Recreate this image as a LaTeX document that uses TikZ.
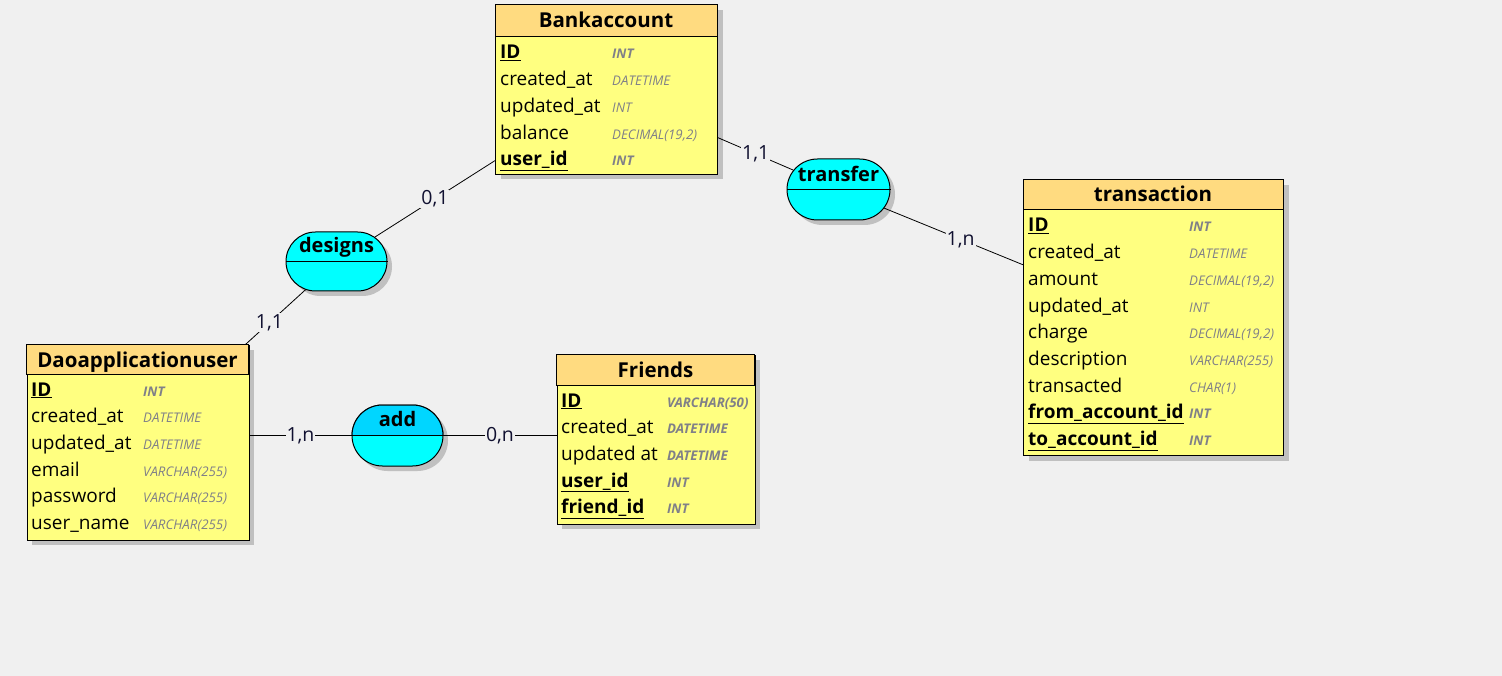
\documentclass[tikz,border=0pt]{standalone}
\usepackage{fontspec}
\setmainfont{Open Sans}
\usetikzlibrary{shapes.misc,shadows,calc}
\definecolor{bgcol}{RGB}{240,240,240}
\definecolor{headcol}{RGB}{255,219,128}
\definecolor{bodycol}{RGB}{255,255,128}
\definecolor{relcol}{RGB}{0,255,255}
\definecolor{addcol}{RGB}{0,214,255}
\definecolor{shadowcol}{RGB}{192,192,192}
\definecolor{typecol}{RGB}{128,128,136}
\definecolor{cardcol}{RGB}{16,16,48}
\newcommand{\keyf}[1]{\textbf{\underline{#1}}}
\tikzset{
  tablebox/.style={draw, fill=bodycol, line width=1pt, inner sep=0pt, anchor=north west,
    drop shadow={shadow xshift=5pt, shadow yshift=-5pt, opacity=1, fill=shadowcol}},
  relbase/.style={rounded rectangle, draw, fill=relcol, line width=1pt, inner sep=0pt},
  relation/.style={relbase,
    drop shadow={shadow xshift=5pt, shadow yshift=-5pt, opacity=1, fill=shadowcol}},
  tabletitle/.style={anchor=base, inner sep=0pt, font=\fontsize{20.5}{24}\selectfont\bfseries},
  reltext/.style={anchor=base, inner sep=0pt, font=\fontsize{20}{24}\selectfont\bfseries},
  field/.style={anchor=base west, inner sep=0pt, font=\fontsize{19}{23}\selectfont},
  ftype/.style={anchor=base west, inner sep=0pt, text=typecol, font=\fontsize{13.3}{15}\selectfont\itshape},
  link/.style={line width=0.8pt},
  card/.style={fill=bgcol, inner sep=1pt, text=cardcol, font=\fontsize{19.5}{22}\selectfont}
}
\begin{document}
\begin{tikzpicture}[x=1pt, y=-1pt]
    \fill[bgcol] (0,0) rectangle (1502,676);

    % Bankaccount
    \node[tablebox, minimum width=222pt, minimum height=169pt] (bank) at (495,5) {};
    \draw[fill=headcol, line width=1pt] (495,5) rectangle (717,37);
    \node[tabletitle] (bank-title) at (606,28) {Bankaccount};
    \foreach \f/\t [count=\i] in {\keyf{ID}/\textbf{INT}, created\_at/DATETIME, updated\_at/INT,
        {balance/DECIMAL(19,2)}, \keyf{user\_id}/\textbf{INT}} {
        \node[field] (bank-\i) at (500,{59+26.7*(\i-1)}) {\f};
        \node[ftype] (bank-t\i) at (612,{59+26.7*(\i-1)}) {\t};
    }

    % transaction
    \node[tablebox, minimum width=260pt, minimum height=275pt] (trans) at (1023,180) {};
    \draw[fill=headcol, line width=1pt] (1023,180) rectangle (1283,210);
    \node[tabletitle] (trans-title) at (1153,202) {transaction};
    \foreach \f/\t [count=\i] in {\keyf{ID}/\textbf{INT}, created\_at/DATETIME, {amount/DECIMAL(19,2)},
        updated\_at/INT, {charge/DECIMAL(19,2)}, description/VARCHAR(255), transacted/CHAR(1),
        \keyf{from\_account\_id}/\textbf{INT}, \keyf{to\_account\_id}/\textbf{INT}} {
        \node[field] (trans-\i) at (1028,{232+26.7*(\i-1)}) {\f};
        \node[ftype] (trans-t\i) at (1189,{232+26.7*(\i-1)}) {\t};
    }

    % Daoapplicationuser
    \node[tablebox, minimum width=222pt, minimum height=195pt] (dao) at (26.5,344.5) {};
    \draw[fill=headcol, line width=1pt] (26.5,344.5) rectangle (248.5,374.5);
    \node[tabletitle] (dao-title) at (137.5,367) {Daoapplicationuser};
    \foreach \f/\t [count=\i] in {\keyf{ID}/\textbf{INT}, created\_at/DATETIME, updated\_at/DATETIME,
        email/VARCHAR(255), password/VARCHAR(255), user\_name/VARCHAR(255)} {
        \node[field] (dao-\i) at (31,{396+26.7*(\i-1)}) {\f};
        \node[ftype] (dao-t\i) at (143,{396+26.7*(\i-1)}) {\t};
    }

    % Friends
    \node[tablebox, minimum width=198pt, minimum height=169pt] (friends) at (556.5,354.5) {};
    \draw[fill=headcol, line width=1pt] (556.5,354.5) rectangle (754.5,385.5);
    \node[tabletitle] (friends-title) at (655.5,377) {Friends};
    \foreach \f/\t [count=\i] in {\keyf{ID}/\textbf{VARCHAR(50)}, created\_at/\textbf{DATETIME},
        updated at/\textbf{DATETIME}, \keyf{user\_id}/\textbf{INT}, \keyf{friend\_id}/\textbf{INT}} {
        \node[field] (friends-\i) at (561,{407+26.7*(\i-1)}) {\f};
        \node[ftype] (friends-t\i) at (667,{407+26.7*(\i-1)}) {\t};
    }

    % relations
    \node[relation, minimum width=101pt, minimum height=59pt] (designs) at (336.5,261.5) {};
    \draw[line width=1pt] (designs.west) -- (designs.east);
    \node[reltext] (designs-title) at (336.5,253) {designs};

    \node[relation, minimum width=103pt, minimum height=61pt] (transfer) at (838.5,189.5) {};
    \draw[line width=1pt] (transfer.west) -- (transfer.east);
    \node[reltext] (transfer-title) at (838.5,181.5) {transfer};

    \node[relation, minimum width=91pt, minimum height=61pt] (add) at (397.5,435.5) {};
    \begin{scope}
        \clip (add.north -| add.west) rectangle (add.east);
        \node[relbase, fill=addcol, minimum width=91pt, minimum height=61pt] (add-top) at (397.5,435.5) {};
    \end{scope}
    \draw[line width=1pt] (add.west) -- (add.east);
    \node[reltext] (add-title) at (397.5,426.5) {add};

    % links
    \draw[link] (designs) -- node[card] {0,1} (bank);
    \draw[link] (designs) -- node[card, pos=0.6] {1,1} (dao);
    \draw[link] (bank) -- node[card] {1,1} (transfer);
    \draw[link] (transfer) -- node[card, pos=0.55] {1,n} (trans);
    \draw[link] (dao.east |- add.west) -- node[card] {1,n} (add.west);
    \draw[link] (add.east) -- node[card] {0,n} (add.east -| friends.west);
\end{tikzpicture}
\end{document}
